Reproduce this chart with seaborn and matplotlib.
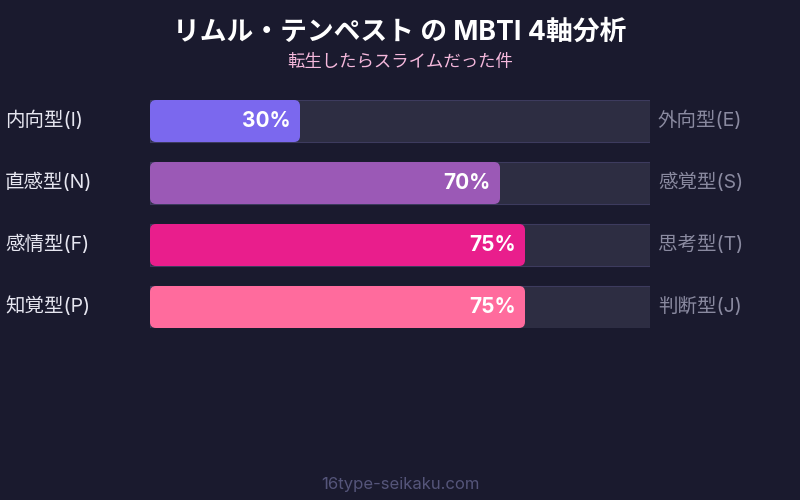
import matplotlib
matplotlib.use("Agg")
import matplotlib.pyplot as plt
from matplotlib.patches import FancyBboxPatch
import seaborn as sns
import pandas as pd

# ---- data ----
left_labels = ["内向型(I)", "直感型(N)", "感情型(F)", "知覚型(P)"]
right_labels = ["外向型(E)", "感覚型(S)", "思考型(T)", "判断型(J)"]
values = [30, 70, 75, 75]
bar_colors = ["#7b68ee", "#9b59b6", "#e91e8c", "#ff6b9d"]
title = "リムル・テンペスト の MBTI 4軸分析"
subtitle = "転生したらスライムだった件"
footer = "16type-seikaku.com"

BG = "#1a1a2e"
TRACK = "#2a2946"
TRACK_EDGE = "#3d3b5e"

sns.set_theme(style="white")
FAM = ["Inter", "Noto Sans CJK JP", "DejaVu Sans"]
plt.rcParams["font.family"] = FAM

df = pd.DataFrame({"axis": left_labels, "value": values, "full": [100] * len(values)})

fig = plt.figure(figsize=(8, 5), dpi=100, facecolor=BG)
ax = fig.add_axes([150 / 800, (500 - 328) / 500, 500 / 800, 228 / 500])
ax.set_facecolor(BG)

bw = 42 / 62
sns.barplot(data=df, y="axis", x="full", orient="h", color=TRACK, width=bw,
            edgecolor=TRACK_EDGE, linewidth=0.8, ax=ax)
n_track = len(ax.patches)
sns.barplot(data=df, y="axis", x="value", orient="h", hue="axis",
            palette=bar_colors, width=bw, legend=False, ax=ax, linewidth=0)

# replace fill bars with rounded versions
fill_patches = list(ax.patches)[n_track:]
for p, c in zip(fill_patches, bar_colors):
    x0, y0 = p.get_x(), p.get_y()
    w, h = p.get_width(), p.get_height()
    p.set_visible(False)
    fb = FancyBboxPatch((x0, y0), w, h,
                        boxstyle="round,pad=0,rounding_size=1.2",
                        mutation_aspect=(6 / 62) / 1.2,
                        facecolor=c, edgecolor="none", zorder=3)
    ax.add_patch(fb)

ax.set_xlim(0, 100)
ax.set_ylim(3 + 0.5 * bw, -0.5 * bw)
ax.set_xlabel("")
ax.set_ylabel("")
ax.set_xticks([])
ax.set_yticks([])
for s in ax.spines.values():
    s.set_visible(False)

for i, (l, r, v) in enumerate(zip(left_labels, right_labels, values)):
    ax.text(v - 1.8, i, f"{v}%", ha="right", va="center", color="white",
            fontsize=15, fontweight="bold", zorder=4, family=FAM)
    fig.text(5 / 800, 1 - (120 + 62 * i) / 500, l, ha="left", va="center",
             color="#e6e6f0", fontsize=14, family=FAM)
    fig.text(658 / 800, 1 - (120 + 62 * i) / 500, r, ha="left", va="center",
             color="#8a8aa0", fontsize=14, family=FAM)

fig.text(0.5, 1 - 33 / 500, title, ha="center", va="center", color="white",
         fontsize=19.3, fontweight="bold", family=FAM)
fig.text(0.5, 1 - 63 / 500, subtitle, ha="center", va="center", color="#f5b8dc",
         fontsize=12.5, family=FAM)
fig.text(0.5, 1 - 484 / 500, footer, ha="center", va="center", color="#55557a",
         fontsize=12, family=FAM)

fig.savefig("out.png", dpi=100, facecolor=BG)
